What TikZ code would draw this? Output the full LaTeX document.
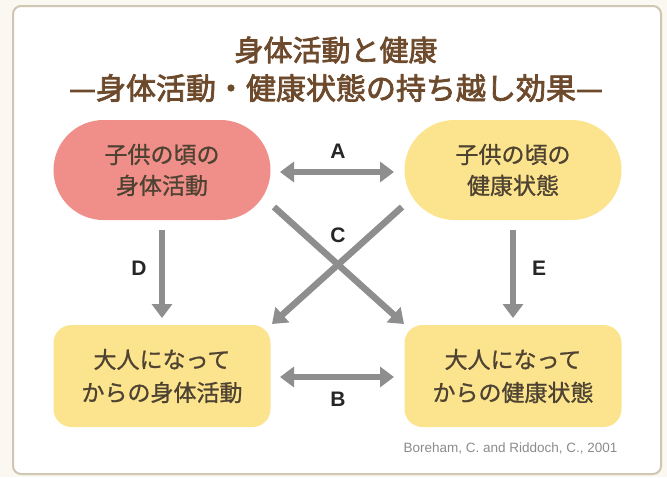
\documentclass[tikz,border=0pt]{standalone}
\usepackage{fontspec}
\setmainfont{Noto Sans CJK JP}
\newfontfamily\jpb{Noto Sans CJK JP}[FakeBold=2.5]
\newfontfamily\jpm{Noto Sans CJK JP}[FakeBold=1]
\setsansfont{Liberation Sans}
\usetikzlibrary{arrows.meta}
\definecolor{pinkfill}{HTML}{F08E8A}
\definecolor{yelfill}{HTML}{FCE48E}
\definecolor{arrowgray}{HTML}{8E8E8E}
\definecolor{titlebrown}{HTML}{6E4A2C}
\definecolor{nodetext}{HTML}{4E4332}
\definecolor{framecol}{HTML}{CFC7B2}
\definecolor{bgcream}{HTML}{FBF8F1}
\begin{document}
\begin{tikzpicture}[x=1pt,y=-1pt,
  topnode/.style={rounded corners=50pt,minimum width=217pt,minimum height=100pt,
    align=center,font=\jpm\fontsize{23}{31}\selectfont,text=nodetext,inner sep=0pt},
  botnode/.style={rounded corners=18pt,minimum width=217pt,minimum height=102pt,
    align=center,font=\jpm\fontsize{23}{33}\selectfont,text=nodetext,fill=yelfill,inner sep=0pt},
  conn/.style={draw=arrowgray,line width=6.5pt,-{Triangle[length=14pt,width=20pt]}},
  dconn/.style={draw=arrowgray,line width=6.5pt,{Triangle[length=14pt,width=20pt]}-{Triangle[length=14pt,width=20pt]}},
  lbl/.style={font=\sffamily\bfseries\fontsize{21}{21}\selectfont,text=black!85}]
\useasboundingbox (0,0) rectangle (667,477);
\fill[bgcream] (0,0) rectangle (667,477);
\draw[framecol,line width=2pt,fill=white,rounded corners=8pt] (13,6) rectangle (661,474);
\node[text=titlebrown,font=\jpb\fontsize{29}{29}\selectfont] (t1) at (336,50) {身体活動と健康};
\node[text=titlebrown,font=\jpb\fontsize{30}{30}\selectfont] (t2) at (336,88) {—身体活動・健康状態の持ち越し効果—};
\node[topnode,fill=pinkfill] (cp) at (162,170) {子供の頃の\\身体活動};
\node[topnode,fill=yelfill] (ch) at (513,170) {子供の頃の\\健康状態};
\node[botnode] (ap) at (162,376) {大人になって\\からの身体活動};
\node[botnode] (ah) at (513,376) {大人になって\\からの健康状態};
\coordinate (a1) at (280,172); \coordinate (a2) at (394,172);
\coordinate (b1) at (280,377); \coordinate (b2) at (394,377);
\draw[dconn] (a1) -- (a2);
\draw[dconn] (b1) -- (b2);
\coordinate (d1) at (162,230); \coordinate (d2) at (162,318);
\coordinate (e1) at (513,230); \coordinate (e2) at (513,318);
\draw[conn] (d1) -- (d2);
\draw[conn] (e1) -- (e2);
\coordinate (c1) at (274,207); \coordinate (c2) at (404,324);
\coordinate (c3) at (402,207); \coordinate (c4) at (272,324);
\draw[conn] (c1) -- (c2);
\draw[conn] (c3) -- (c4);
\node[lbl] (la) at (338,151) {A};
\node[lbl] (lb) at (338,399) {B};
\node[lbl] (lc) at (338,235) {C};
\node[lbl] (ld) at (139,268) {D};
\node[lbl] (le) at (539,268) {E};
\node[font=\sffamily\fontsize{13.5}{13.5}\selectfont,text=black!45,anchor=east] (cite) at (621,448) {Boreham, C. and Riddoch, C., 2001};
\end{tikzpicture}
\end{document}
